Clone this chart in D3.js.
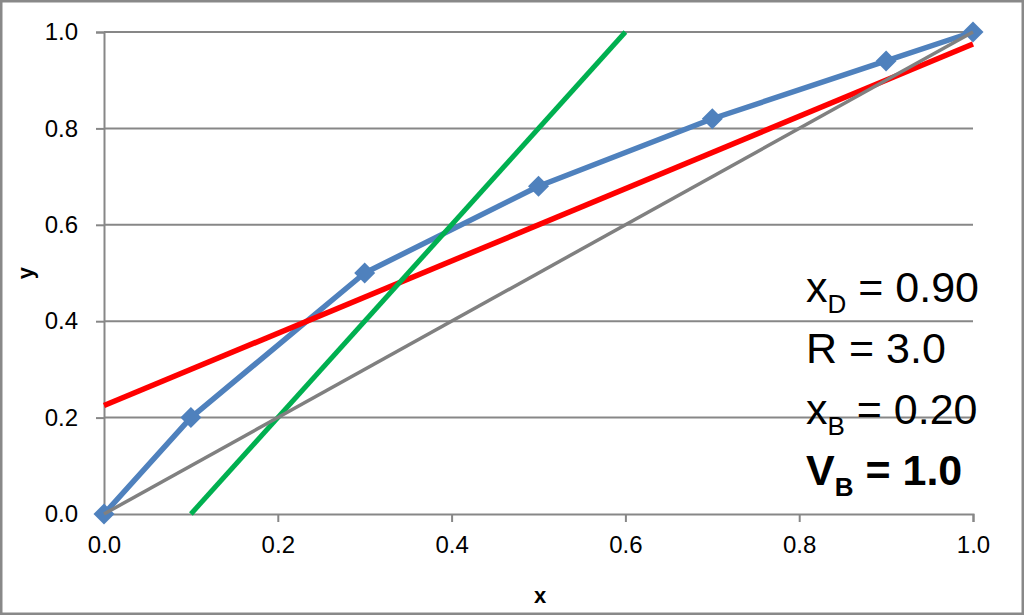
<!DOCTYPE html>
<html>
<head>
<meta charset="utf-8">
<script src="https://cdn.jsdelivr.net/npm/d3@7"></script>
<style>
  body { margin: 0; background: #fff; }
  svg { display: block; font-family: "Liberation Sans", Arial, sans-serif; }
</style>
</head>
<body>
<svg width="1024" height="615"></svg>
<script>
// equilibrium curve (blue, with diamond markers)
let eqX = [0.0, 0.1, 0.3, 0.5, 0.7, 0.9, 1.0];
let eqY = [0.0, 0.2, 0.5, 0.68, 0.82, 0.94, 1.0];

// rectifying operating line (red)
let rectX = [0.0, 1.0];
let rectY = [0.225, 0.975];

// stripping operating line (green)
let stripX = [0.1, 0.6];
let stripY = [0.0, 1.0];

// y = x diagonal (gray)
let diagX = [0.0, 1.0];
let diagY = [0.0, 1.0];

let tickVals = [0.0, 0.2, 0.4, 0.6, 0.8, 1.0];

// annotation lines: [main, subscript, rest, bold]
let notes = [
  ['x', 'D', ' = 0.90', false],
  ['R', '', ' = 3.0', false],
  ['x', 'B', ' = 0.20', false],
  ['V', 'B', ' = 1.0', true]
];

let svgWidth = 1024,
    svgHeight = 615;

let svg = d3.select('svg');

// outer frame
svg.append('rect')
   .attr('x', 1.25).attr('y', 1.25)
   .attr('width', svgWidth - 2.5).attr('height', svgHeight - 2.5)
   .attr('fill', '#fff')
   .attr('stroke', '#898989')
   .attr('stroke-width', 2.5);

let xScale = d3.scaleLinear().domain([0, 1]).range([104, 973]);
let yScale = d3.scaleLinear().domain([0, 1]).range([514, 32]);

let gridColor = '#878787';

// horizontal gridlines
svg.append('g')
   .selectAll('line')
   .data(tickVals.filter(d => d > 0))
   .enter()
   .append('line')
   .attr('x1', xScale(0)).attr('x2', xScale(1))
   .attr('y1', d => yScale(d)).attr('y2', d => yScale(d))
   .attr('stroke', gridColor)
   .attr('stroke-width', 2);

// axes
let xAxis = d3.axisBottom(xScale)
              .tickValues(tickVals)
              .tickSize(8)
              .tickPadding(14)
              .tickFormat(d3.format('.1f'));
let yAxis = d3.axisLeft(yScale)
              .tickValues(tickVals)
              .tickSize(8)
              .tickPadding(18)
              .tickFormat(d3.format('.1f'));

let gx = svg.append('g')
            .attr('transform', `translate(0, ${yScale(0)})`)
            .call(xAxis);
let gy = svg.append('g')
            .attr('transform', `translate(${xScale(0)}, 0)`)
            .call(yAxis);

[gx, gy].forEach(g => {
  g.attr('font-size', null).attr('font-family', null);
  g.select('.domain').attr('stroke', gridColor).attr('stroke-width', 2);
  g.selectAll('.tick line').attr('stroke', gridColor).attr('stroke-width', 2);
  g.selectAll('.tick text')
   .style('font-family', '"Liberation Sans", Arial, sans-serif')
   .style('font-size', '24px')
   .attr('fill', '#000');
});
gx.selectAll('.tick').filter(d => d === 0).select('line').remove();

// axis titles
svg.append('text')
   .attr('x', 540).attr('y', 603)
   .attr('text-anchor', 'middle')
   .attr('font-size', 22)
   .attr('font-weight', 'bold')
   .text('x');
svg.append('text')
   .attr('transform', 'translate(33, 273) rotate(-90)')
   .attr('text-anchor', 'middle')
   .attr('font-size', 22)
   .attr('font-weight', 'bold')
   .text('y');

let line = d3.line()
             .x(d => xScale(d[0]))
             .y(d => yScale(d[1]));

function drawSeries(xs, ys, color, width) {
  let pts = xs.map((x, i) => [x, ys[i]]);
  svg.append('path')
     .datum(pts)
     .attr('d', line)
     .attr('fill', 'none')
     .attr('stroke', color)
     .attr('stroke-width', width)
     .attr('stroke-linejoin', 'round');
  return pts;
}

// blue series with diamonds
let eqPts = drawSeries(eqX, eqY, '#4F81BD', 5.5);
svg.append('g')
   .selectAll('path')
   .data(eqPts)
   .enter()
   .append('path')
   .attr('d', d3.symbol(d3.symbolSquare, 220))
   .attr('transform', d => `translate(${xScale(d[0])}, ${yScale(d[1])}) rotate(45)`)
   .attr('fill', '#4F81BD');

drawSeries(rectX, rectY, '#FF0000', 5.5);
drawSeries(stripX, stripY, '#00B050', 5);
drawSeries(diagX, diagY, '#808080', 3.5);

// parameter notes
let noteG = svg.append('g');
notes.forEach((n, i) => {
  let t = noteG.append('text')
               .attr('x', 806)
               .attr('y', 302 + i * 61)
               .attr('font-size', 43)
               .attr('font-weight', n[3] ? 'bold' : 'normal')
               .attr('fill', '#000');
  t.append('tspan').text(n[0]);
  if (n[1]) {
    t.append('tspan').attr('font-size', 26).attr('dy', 11).text(n[1]);
    t.append('tspan').attr('dy', -11).text(n[2]);
  } else {
    t.append('tspan').text(n[2]);
  }
});
</script>
</body>
</html>
